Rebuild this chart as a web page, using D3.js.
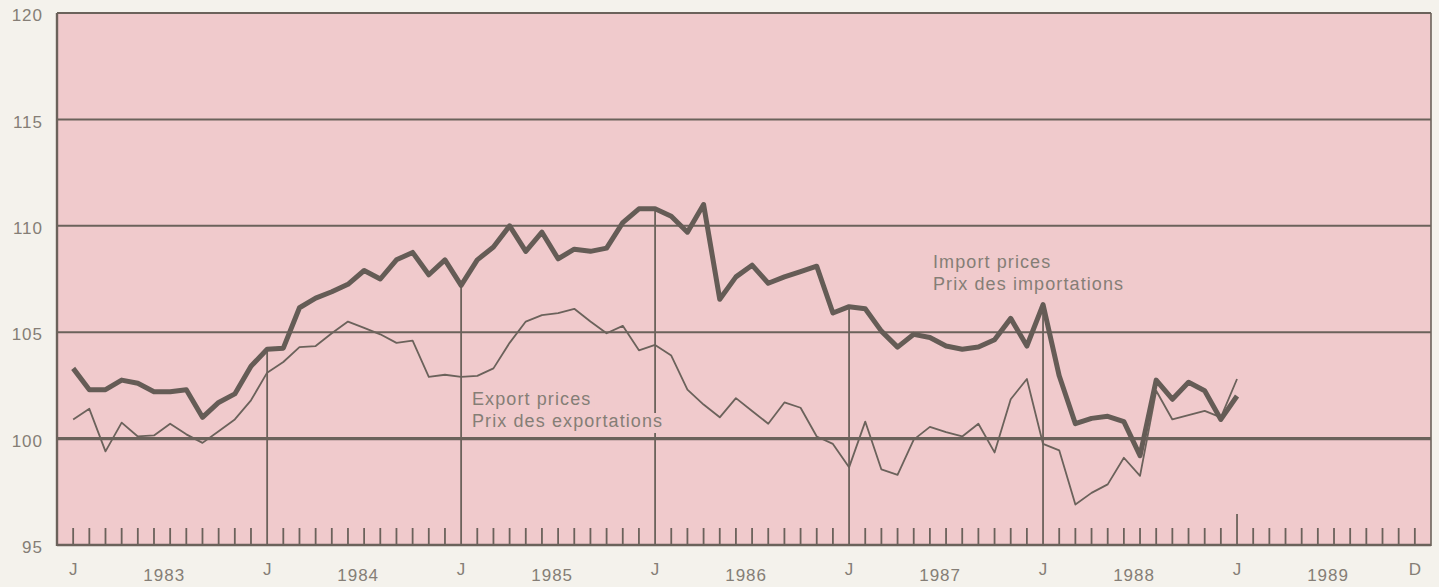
<!DOCTYPE html>
<meta charset="utf-8">
<script src="https://d3js.org/d3.v7.min.js"></script>
<style>
  body { margin: 0; background: #f4f2ec; }
  text { font-family: "Liberation Sans", Arial, sans-serif; fill: #857e76; }
</style>
<svg id="chart" width="1439" height="587"></svg>
<script>
// monthly price indexes, Jan 1983 .. Jan 1989
var importPrices = [
  103.3, 102.3, 102.3, 102.75, 102.6, 102.2, 102.2, 102.3, 101.0, 101.7, 102.1, 103.4,
  104.2, 104.25, 106.15, 106.6, 106.9, 107.25, 107.9, 107.5, 108.4, 108.75, 107.7, 108.4,
  107.2, 108.4, 109.0, 110.0, 108.8, 109.7, 108.45, 108.9, 108.8, 108.95, 110.15, 110.8,
  110.8, 110.45, 109.7, 111.0, 106.55, 107.6, 108.15, 107.3, 107.6, 107.85, 108.1, 105.9,
  106.2, 106.1, 105.05, 104.3, 104.9, 104.75, 104.35, 104.2, 104.3, 104.65, 105.65, 104.35,
  106.3, 102.95, 100.7, 100.95, 101.05, 100.8, 99.2, 102.75, 101.85, 102.65, 102.25, 100.9,
  102.0
];
var exportPrices = [
  100.9, 101.4, 99.4, 100.75, 100.1, 100.15, 100.7, 100.2, 99.8, 100.35, 100.9, 101.8,
  103.1, 103.6, 104.3, 104.35, 104.95, 105.5, 105.2, 104.9, 104.5, 104.6, 102.9, 103.0,
  102.9, 102.95, 103.3, 104.5, 105.5, 105.8, 105.9, 106.1, 105.5, 104.95, 105.3, 104.15,
  104.4, 103.9, 102.3, 101.6, 101.0, 101.9, 101.3, 100.7, 101.7, 101.45, 100.1, 99.75,
  98.65, 100.8, 98.55, 98.3, 99.95, 100.55, 100.3, 100.1, 100.7, 99.35, 101.85, 102.8,
  99.75, 99.45, 96.9, 97.45, 97.85, 99.1, 98.25, 102.25, 100.9, 101.1, 101.3, 101.0,
  102.8
];
var yTicks = [95, 100, 105, 110, 115, 120];
var years = ["1983", "1984", "1985", "1986", "1987", "1988", "1989"];
var monthTicks = [0, 12, 24, 36, 48, 60, 72, 83];
var monthNames = ["J", "J", "J", "J", "J", "J", "J", "D"];

var ink = "#6b625b";
var pink = "#f0cacc";
var svg = d3.select("#chart");

var x = d3.scaleLinear().domain([-1, 84]).range([57, 1431]);
var y = d3.scaleLinear().domain([95, 120]).range([545, 13]);

// pink plot area
svg.append("rect")
  .attr("x", x(-1)).attr("y", y(120))
  .attr("width", x(84) - x(-1)).attr("height", y(95) - y(120))
  .attr("fill", pink);

// horizontal rules
svg.selectAll(".grid")
  .data(yTicks.filter(function(d) { return d > 95; }))
  .enter().append("line")
  .attr("x1", x(-1)).attr("x2", x(84))
  .attr("y1", function(d) { return y(d); })
  .attr("y2", function(d) { return y(d); })
  .attr("stroke", ink)
  .attr("stroke-width", function(d) { return d == 100 ? 3.2 : 2; });

// january lines, from the import curve down to the axis
var yearStarts = [12, 24, 36, 48, 60];
svg.selectAll(".yearline")
  .data(yearStarts)
  .enter().append("line")
  .attr("x1", function(d) { return x(d); })
  .attr("x2", function(d) { return x(d); })
  .attr("y1", function(d) { return y(importPrices[d]); })
  .attr("y2", y(95))
  .attr("stroke", ink).attr("stroke-width", 1.8);

// small month ticks along the bottom
var minor = d3.range(0, 84).filter(function(m) { return yearStarts.indexOf(m) < 0; });
svg.selectAll(".mtick")
  .data(minor)
  .enter().append("line")
  .attr("x1", function(d) { return x(d); })
  .attr("x2", function(d) { return x(d); })
  .attr("y1", function(d) { return d == 72 ? y(95) - 31 : y(95) - 17; })
  .attr("y2", y(95))
  .attr("stroke", ink).attr("stroke-width", 1.8);

// series
var line = d3.line()
  .x(function(d, i) { return x(i); })
  .y(function(d) { return y(d); });

svg.append("path")
  .datum(exportPrices)
  .attr("fill", "none")
  .attr("stroke", ink)
  .attr("stroke-width", 1.8)
  .attr("stroke-linejoin", "round")
  .attr("d", line);

svg.append("path")
  .datum(importPrices)
  .attr("fill", "none")
  .attr("stroke", "#655c56")
  .attr("stroke-width", 5)
  .attr("stroke-linejoin", "round")
  .attr("d", line);

// frame
svg.append("line").attr("x1", x(-1)).attr("x2", x(84)).attr("y1", y(95)).attr("y2", y(95))
  .attr("stroke", ink).attr("stroke-width", 2.6);
svg.append("line").attr("x1", x(-1)).attr("x2", x(-1)).attr("y1", y(120)).attr("y2", y(95) + 1)
  .attr("stroke", ink).attr("stroke-width", 2.4);
svg.append("line").attr("x1", x(84)).attr("x2", x(84)).attr("y1", y(120)).attr("y2", y(95) + 1)
  .attr("stroke", ink).attr("stroke-width", 1.6);

// series labels, each line knocked out of whatever is behind it
function label(lines, lx, ly) {
  lines.forEach(function(s, i) {
    var g = svg.append("g");
    var bg = g.append("rect").attr("fill", pink);
    var t = g.append("text")
      .attr("x", lx).attr("y", ly + i * 22)
      .style("font-size", "18px").style("letter-spacing", "1.1px")
      .text(s);
    var b = t.node().getBBox();
    bg.attr("x", b.x - 3).attr("y", b.y + 2).attr("width", b.width + 6).attr("height", b.height);
  });
}
label(["Export prices", "Prix des exportations"], 472, 405);
label(["Import prices", "Prix des importations"], 933, 268);

// y axis labels
var yAxis = svg.append("g")
  .attr("transform", "translate(46,0)")
  .call(d3.axisLeft(y).tickValues(yTicks).tickSize(0).tickPadding(3));
yAxis.select(".domain").remove();
yAxis.selectAll("text").attr("dy", "0.45em");

// month letters
var mAxis = svg.append("g")
  .attr("transform", "translate(0," + y(95) + ")")
  .call(d3.axisBottom(x).tickValues(monthTicks).tickSize(0).tickPadding(18)
    .tickFormat(function(d, i) { return monthNames[i]; }));
mAxis.select(".domain").remove();

// year labels, centred in each year
var yrAxis = svg.append("g")
  .attr("transform", "translate(0," + y(95) + ")")
  .call(d3.axisBottom(x).tickValues(years.map(function(d, i) { return i * 12 + 5.6; }))
    .tickSize(0).tickPadding(24)
    .tickFormat(function(d, i) { return years[i]; }));
yrAxis.select(".domain").remove();

svg.selectAll(".tick text")
  .style("font-size", "17px").style("letter-spacing", "1px")
  .style("font-family", "'Liberation Sans', Arial, sans-serif")
  .attr("fill", "#857e76");
</script>
